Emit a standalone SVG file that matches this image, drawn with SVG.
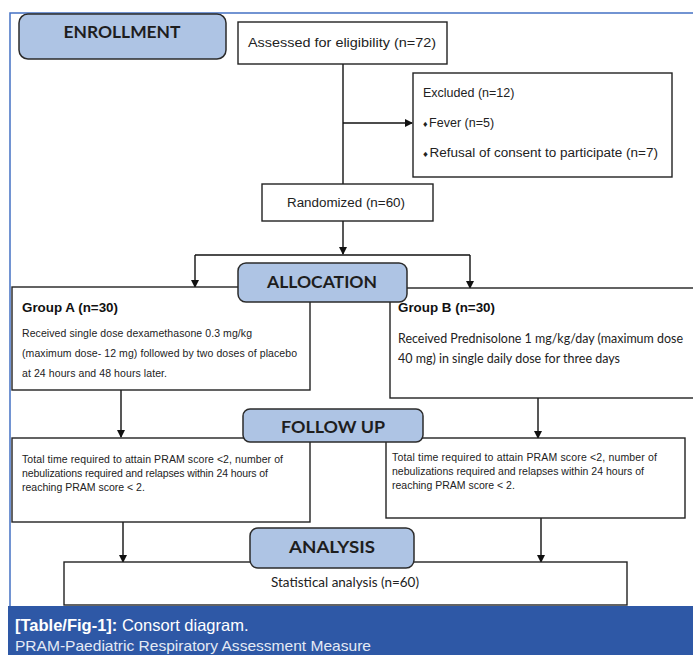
<svg xmlns="http://www.w3.org/2000/svg" width="693" height="655" viewBox="0 0 693 655">
<defs>
<marker id="ah" markerWidth="8" markerHeight="8" refX="7" refY="4" orient="auto" markerUnits="userSpaceOnUse"><path d="M0,0 L8,4 L0,8 Z" fill="#111"/></marker>
<style>
.box{fill:#fff;stroke:#222;stroke-width:1.4}
.hdr{fill:#AEC4E4;stroke:#2b2b2b;stroke-width:1.5}
.ht{font-family:Lato,"Open Sans",sans-serif;font-weight:bold;font-size:17px;fill:#1e1e1e;text-anchor:middle}
.t{font-family:"Liberation Sans",Arial,sans-serif;font-size:12.5px;fill:#222}
.s{font-family:"Liberation Sans",Arial,sans-serif;font-size:10.5px;fill:#222}
.c{font-family:Lato,"Open Sans",sans-serif;font-size:12.5px;fill:#222}
.b{font-family:"Liberation Sans",Arial,sans-serif;font-size:12.5px;font-weight:bold;fill:#111}
.ln{fill:none;stroke:#111;stroke-width:1.4}
</style>
</defs>
<rect width="693" height="655" fill="#fff"/>
<path d="M10,606 L10,13 L693,13" fill="none" stroke="#4472C4" stroke-width="1.5"/>

<g id="connectors">
<line class="ln" x1="343" y1="64" x2="343" y2="185"/>
<line class="ln" x1="343" y1="123" x2="412" y2="123" marker-end="url(#ah)"/>
<line class="ln" x1="343" y1="221" x2="343" y2="254" marker-end="url(#ah)"/>
<line class="ln" x1="195" y1="255" x2="470" y2="255"/>
<line class="ln" x1="195" y1="255" x2="195" y2="287" marker-end="url(#ah)"/>
<line class="ln" x1="470" y1="255" x2="470" y2="288" marker-end="url(#ah)"/>
<line class="ln" x1="121" y1="390" x2="121" y2="437" marker-end="url(#ah)"/>
<line class="ln" x1="538" y1="398" x2="538" y2="438" marker-end="url(#ah)"/>
<line class="ln" x1="123" y1="522" x2="123" y2="562" marker-end="url(#ah)"/>
<line class="ln" x1="541" y1="518" x2="541" y2="562" marker-end="url(#ah)"/>
</g>

<g id="enrollment">
<rect class="hdr" x="19" y="14" width="207" height="45" rx="9"/>
<text class="ht" x="122" y="38" textLength="117" lengthAdjust="spacingAndGlyphs">ENROLLMENT</text>
</g>

<g id="assessed">
<rect class="box" x="238" y="22" width="209" height="42"/>
<text class="t" x="248" y="47" textLength="188" lengthAdjust="spacingAndGlyphs">Assessed for eligibility (n=72)</text>
</g>

<g id="excluded">
<rect class="box" x="413" y="73" width="259" height="104"/>
<text class="t" x="423" y="97">Excluded (n=12)</text>
<text class="t" x="423" y="127"><tspan font-size="9">♦</tspan><tspan dx="1.5">Fever (n=5)</tspan></text>
<text class="t" x="423" y="157" textLength="235" lengthAdjust="spacingAndGlyphs"><tspan font-size="9">♦</tspan><tspan dx="1.5">Refusal of consent to participate (n=7)</tspan></text>
</g>

<g id="randomized">
<rect class="box" x="262" y="184" width="171" height="37"/>
<text class="t" x="287" y="207" textLength="118" lengthAdjust="spacingAndGlyphs">Randomized (n=60)</text>
</g>

<g id="groupA">
<rect class="box" x="12" y="287" width="298" height="103"/>
<text class="b" x="22" y="312" textLength="96" lengthAdjust="spacingAndGlyphs">Group A (n=30)</text>
<text class="s" x="22" y="337" textLength="230">Received single dose dexamethasone 0.3 mg/kg</text>
<text class="s" x="22" y="357" textLength="275">(maximum dose- 12 mg) followed by two doses of placebo</text>
<text class="s" x="22" y="377" textLength="145">at 24 hours and 48 hours later.</text>
</g>

<g id="groupB">
<rect class="box" x="390" y="288" width="310" height="110"/>
<text class="b" x="398" y="312" textLength="97" lengthAdjust="spacingAndGlyphs">Group B (n=30)</text>
<text class="c" x="398" y="343" textLength="285" lengthAdjust="spacingAndGlyphs">Received Prednisolone 1 mg/kg/day (maximum dose</text>
<text class="c" x="398" y="363" textLength="222" lengthAdjust="spacingAndGlyphs">40 mg) in single daily dose for three days</text>
</g>

<g id="allocation">
<rect class="hdr" x="238" y="263" width="169" height="39" rx="8"/>
<text class="ht" x="322" y="288" textLength="110" lengthAdjust="spacingAndGlyphs">ALLOCATION</text>
</g>

<g id="followA">
<rect class="box" x="12" y="438" width="298" height="84"/>
<text class="s" x="22" y="463" textLength="261">Total time required to attain PRAM score &lt;2, number of</text>
<text class="s" x="22" y="477" textLength="246">nebulizations required and relapses within 24 hours of</text>
<text class="s" x="22" y="491">reaching PRAM score &lt; 2.</text>
</g>

<g id="followB">
<rect class="box" x="386" y="438" width="299" height="80"/>
<text class="s" x="392" y="461" textLength="265">Total time required to attain PRAM score &lt;2, number of</text>
<text class="s" x="392" y="475" textLength="252">nebulizations required and relapses within 24 hours of</text>
<text class="s" x="392" y="489">reaching PRAM score &lt; 2.</text>
</g>

<g id="followup">
<rect class="hdr" x="243" y="409" width="180" height="33" rx="7"/>
<text class="ht" x="333" y="433" textLength="104" lengthAdjust="spacingAndGlyphs">FOLLOW UP</text>
</g>

<g id="statistical">
<rect class="box" x="64" y="562" width="563" height="43"/>
<text class="c" x="345" y="587" text-anchor="middle" textLength="148" lengthAdjust="spacingAndGlyphs">Statistical analysis (n=60)</text>
</g>

<g id="analysis">
<rect class="hdr" x="250" y="528" width="164" height="40" rx="8"/>
<text class="ht" x="332" y="553" textLength="86" lengthAdjust="spacingAndGlyphs">ANALYSIS</text>
</g>

<g id="caption">
<rect x="8" y="606" width="685" height="49" fill="#2E58A6"/>
<text x="15" y="631" font-family="'Liberation Sans',Arial,sans-serif" font-size="16.5" fill="#fff"><tspan font-weight="bold">[Table/Fig-1]:</tspan> Consort diagram.</text>
<text x="15" y="651" font-family="'Liberation Sans',Arial,sans-serif" font-size="14.5" fill="#e4eaf5" textLength="356" lengthAdjust="spacingAndGlyphs">PRAM-Paediatric Respiratory Assessment Measure</text>
</g>
</svg>
